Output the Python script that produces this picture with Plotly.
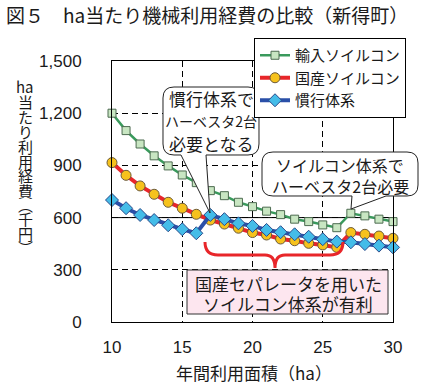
import plotly.graph_objects as go

# ---------------- data ----------------
area = list(range(10, 31))
imported = [1200, 1100, 1023, 955, 897, 845, 801, 755, 726, 688, 663,
            637, 617, 591, 577, 558, 542, 625, 610, 591, 577]
domestic = [916, 843, 782, 734, 688, 654, 619, 586, 563, 539, 514,
            500, 477, 467, 452, 443, 429, 514, 504, 494, 481]
conventional = [701, 654, 615, 586, 556, 533, 510, 615, 591, 567, 552,
                529, 516, 504, 490, 476, 462, 458, 448, 439, 429]
series_names = ["輸入ソイルコン", "国産ソイルコン", "慣行体系"]
y_ticks = [0, 300, 600, 900, 1200, 1500]
x_ticks = [10, 15, 20, 25, 30]

# ---------------- layout helpers ----------------
W, H = 424, 389
PL, PR, PT, PB = 112, 393, 61, 322      # plot area in pixels
JP = "Noto Sans CJK JP"
NUM = "Liberation Sans"


def px(x):
    return (x - PL) / (PR - PL)


def py(y):
    return (PB - y) / (PB - PT)


def P(x, y):
    return f"{px(x):.5f},{py(y):.5f}"


def callout(x0, y0, x1, y1, r, ta, tip, tb):
    s = f"M {P(x0 + r, y0)} L {P(x1 - r, y0)} Q {P(x1, y0)} {P(x1, y0 + r)} "
    s += f"L {P(x1, y1 - r)} Q {P(x1, y1)} {P(x1 - r, y1)} "
    s += f"L {P(*tb)} L {P(*tip)} L {P(*ta)} "
    s += f"L {P(x0 + r, y1)} Q {P(x0, y1)} {P(x0, y1 - r)} "
    s += f"L {P(x0, y0 + r)} Q {P(x0, y0)} {P(x0 + r, y0)} Z"
    return s


fig = go.Figure()

styles = [
    dict(line=dict(color="#3a9a5c", width=2.5),
         marker=dict(symbol="square", size=8, color="#c8e6c2",
                     line=dict(color="#4d6b50", width=1))),
    dict(line=dict(color="#e8262a", width=4),
         marker=dict(symbol="circle", size=10, color="#f6c21c",
                     line=dict(color="#6b5a3a", width=1))),
    dict(line=dict(color="#2a4fa8", width=4),
         marker=dict(symbol="diamond", size=10, color="#44bce8",
                     line=dict(color="#2a4a8a", width=1))),
]
for name, vals, st in zip(series_names, [imported, domestic, conventional], styles):
    fig.add_trace(go.Scatter(x=area, y=vals, name=name, mode="lines+markers",
                             line=st["line"], marker=st["marker"], cliponaxis=False))

shapes = []
# solid line at 600
shapes.append(dict(type="line", xref="paper", yref="y", x0=0, x1=1, y0=600, y1=600,
                   line=dict(color="black", width=1), layer="below"))
# callout 1
shapes.append(dict(type="path", xref="paper", yref="paper",
                   path=callout(163, 87, 259, 155, 11, (181, 155), (210, 213), (206, 155)),
                   fillcolor="white", line=dict(color="#222", width=1), layer="above"))
# callout 2
shapes.append(dict(type="path", xref="paper", yref="paper",
                   path=callout(262, 152, 418, 196, 11, (352, 196), (351, 209), (386, 196)),
                   fillcolor="white", line=dict(color="#222", width=1), layer="above"))
# brace
brace = (f"M {P(205, 242)} Q {P(205, 255)} {P(218, 255)} L {P(265, 255)} "
         f"Q {P(275, 255)} {P(275, 268)} Q {P(275, 255)} {P(285, 255)} "
         f"L {P(330, 255)} Q {P(343, 255)} {P(343, 242)}")
shapes.append(dict(type="path", xref="paper", yref="paper", path=brace,
                   line=dict(color="#e8262a", width=3), layer="above"))
# pink box
shapes.append(dict(type="rect", xref="paper", yref="paper",
                   x0=px(187), x1=px(388), y0=py(270), y1=py(314),
                   fillcolor="#fde6ef", line=dict(color="#333", width=1), layer="above"))

ann = []


def text(x, y, s, size=17, anchor="center", font=JP):
    ann.append(dict(xref="paper", yref="paper", x=px(x), y=py(y), text=s,
                    showarrow=False, xanchor=anchor, yanchor="middle",
                    font=dict(family=font, size=size, color="#1a1a1a")))


# title
text(4, 14, "図５　ha当たり機械利用経費の比較（新得町）", size=19, anchor="left")
# callout texts
text(211, 98, "慣行体系で")
text(211, 121, "ハーベスタ2台", size=14)
text(211, 143, "必要となる")
text(340, 165, "ソイルコン体系で", size=16)
text(340, 186, "ハーベスタ2台必要", size=16)
# pink box texts
text(288, 283, "国産セパレータを用いた")
text(288, 303, "ソイルコン体系が有利")
# y axis title (vertical, one glyph per line)
ytitle_chars = ["ha", "当", "た", "り", "利", "用", "経", "費", "︵", "千", "円", "︶"]
ytitle_pos = [86, 101, 116, 131, 146, 161, 175, 190, 204, 218, 233, 247]
for ch, yy in zip(ytitle_chars, ytitle_pos):
    text(25, yy, ch, size=15)
# x axis title
text(254, 372, "年間利用面積（ha）", size=17)

fig.update_layout(
    width=W, height=H,
    margin=dict(l=PL, r=W - PR, t=PT, b=H - PB),
    paper_bgcolor="white", plot_bgcolor="white",
    shapes=shapes, annotations=ann,
    showlegend=True,
    legend=dict(x=px(254), y=py(38), xanchor="left", yanchor="top",
                bgcolor="white", bordercolor="black", borderwidth=1,
                font=dict(family=JP, size=15, color="#1a1a1a"),
                itemwidth=30, tracegroupgap=0),
)
fig.update_xaxes(range=[10, 30], tickvals=x_ticks, ticks="", showline=True, mirror=True,
                 linecolor="black", linewidth=1, showgrid=True, gridcolor="black",
                 gridwidth=1, griddash="6px,4px", zeroline=False,
                 tickfont=dict(family=NUM, size=17, color="#1a1a1a"), ticklabelstandoff=10)
fig.update_yaxes(range=[0, 1500], tickvals=y_ticks, tickformat=",", ticks="",
                 showline=True, mirror=True, linecolor="black", linewidth=1,
                 showgrid=True, gridcolor="black", gridwidth=1, griddash="6px,4px",
                 zeroline=False, tickfont=dict(family=NUM, size=17, color="#1a1a1a"),
                 ticklabelstandoff=26)

fig.write_html("out.html",
               config={"displayModeBar": False},
               post_script="document.body.style.margin='0';document.body.style.padding='0';")
